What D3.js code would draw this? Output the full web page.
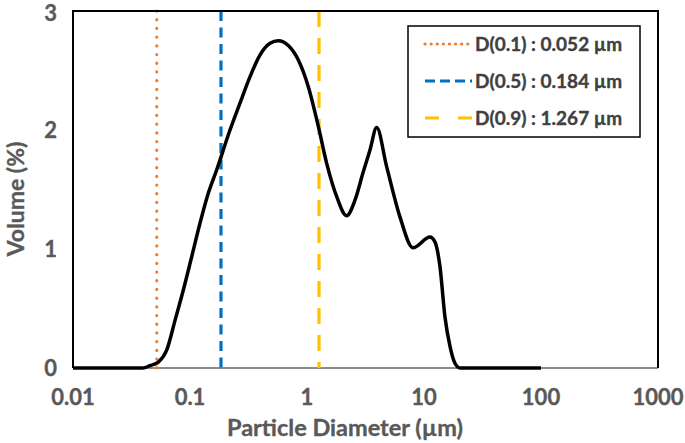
<!DOCTYPE html>
<html><head><meta charset="utf-8">
<script src="https://cdn.jsdelivr.net/npm/d3@7"></script>
<style>body{margin:0;background:#fff}svg{display:block}text{font-family:Lato,"Open Sans",sans-serif;font-weight:700}</style>
</head><body>
<svg id="c" width="685" height="443"></svg>
<script>
const diameters = [0.01, 0.0396, 0.0455, 0.0536, 0.0632, 0.0745, 0.0877, 0.1034, 0.1217, 0.1433, 0.169, 0.2197, 0.267, 0.326, 0.396, 0.483, 0.568, 0.692, 0.843, 1.026, 1.25, 1.473, 1.795, 2.18, 2.57, 3.01, 3.45, 3.94, 4.80, 6.23, 8.05, 11.25, 12.4, 13.7, 15.1, 16.7, 18.4, 20.3, 100];
const volumes   = [0, 0, 0.02, 0.05, 0.15, 0.40, 0.655, 0.935, 1.216, 1.468, 1.664, 2.0, 2.224, 2.448, 2.63, 2.729, 2.75, 2.71, 2.588, 2.364, 2.03, 1.72, 1.44, 1.28, 1.41, 1.64, 1.83, 2.02, 1.69, 1.27, 1.01, 1.10, 1.06, 0.85, 0.43, 0.18, 0.04, 0, 0];
const markerNames = ["D(0.1) : 0.052 µm", "D(0.5) : 0.184 µm", "D(0.9) : 1.267 µm"];
const markerValues = [0.052, 0.184, 1.267];
const markerColors = ["#ED7D31", "#0070C0", "#FFC000"];
const markerDash = ["0.1 8.6", "10 6.5", "16 11"];
const xTicks = [0.01, 0.1, 1, 10, 100, 1000];
const xTickLabels = ["0.01", "0.1", "1", "10", "100", "1000"];
const yTicks = [0, 1, 2, 3];

const svg = d3.select("#c");
const L = 73, R = 658, T = 11, B = 368;
const x = d3.scaleLog().domain([0.01, 1000]).range([L, R]);
const y = d3.scaleLinear().domain([0, 3]).range([B, T]);

// x axis line (gray)
svg.append("line").attr("x1", L).attr("x2", R).attr("y1", B).attr("y2", B)
  .attr("stroke", "#8c8c8c").attr("stroke-width", 2.2);

const txtStroke = (sel, c) => sel.attr("stroke", c).attr("stroke-width", 0.35);

// tick labels
txtStroke(svg.append("g").selectAll("text").data(yTicks).join("text")
  .attr("x", 57).attr("y", d => Math.max(y(d), 13)).attr("dy", "0.35em")
  .attr("text-anchor", "end").attr("fill", "#595959").attr("font-size", 22)
  .text(d => d), "#595959");
txtStroke(svg.append("g").selectAll("text").data(xTicks).join("text")
  .attr("x", d => x(d)).attr("y", 397).attr("dy", "0.35em")
  .attr("text-anchor", "middle").attr("fill", "#595959").attr("font-size", 22)
  .text((d, i) => xTickLabels[i]), "#595959");

// titles
txtStroke(svg.append("text").attr("x", 345).attr("y", 428).attr("dy", "0.35em")
  .attr("text-anchor", "middle").attr("fill", "#595959").attr("font-size", 23.5)
  .text("Particle Diameter (µm)"), "#595959");
txtStroke(svg.append("text").attr("transform", "translate(16,199) rotate(-90)").attr("dy", "0.35em")
  .attr("text-anchor", "middle").attr("fill", "#595959").attr("font-size", 23)
  .text("Volume (%)"), "#595959");

// marker lines
svg.append("g").selectAll("line").data(markerValues).join("line")
  .attr("x1", d => x(d)).attr("x2", d => x(d)).attr("y1", y(3)).attr("y2", y(0))
  .attr("stroke", (d, i) => markerColors[i]).attr("stroke-width", 3.2)
  .attr("stroke-dasharray", (d, i) => markerDash[i])
  .attr("stroke-linecap", (d, i) => i === 0 ? "round" : "butt");

// curve
const pts = diameters.map((d, i) => [d, volumes[i]]);
svg.append("path").datum(pts)
  .attr("d", d3.line().x(d => x(d[0])).y(d => y(d[1])).curve(d3.curveMonotoneX))
  .attr("fill", "none").attr("stroke", "#000").attr("stroke-width", 3.5)
  .attr("stroke-linejoin", "round");

// frame (left, top, right)
svg.append("path").attr("d", `M${L},${B}V${T}H${R}V${B}`)
  .attr("fill", "none").attr("stroke", "#000").attr("stroke-width", 2);

// legend
const lg = svg.append("g");
lg.append("rect").attr("x", 408).attr("y", 26).attr("width", 232).attr("height", 111)
  .attr("fill", "#fff").attr("stroke", "#000").attr("stroke-width", 1.5);
const items = lg.selectAll("g.it").data(markerNames).join("g").attr("class", "it")
  .attr("transform", (d, i) => `translate(0,${44 + i * 37})`);
items.append("line").attr("x1", 425).attr("x2", 472).attr("y1", 0).attr("y2", 0)
  .attr("stroke", (d, i) => markerColors[i]).attr("stroke-width", 3.2)
  .attr("stroke-dasharray", (d, i) => i === 0 ? "0.1 6" : (i === 1 ? "10 5" : "14 19"))
  .attr("stroke-linecap", (d, i) => i === 0 ? "round" : "butt");
txtStroke(items.append("text").attr("x", 475).attr("y", 0).attr("dy", "0.35em")
  .attr("fill", "#404040").attr("font-size", 19).text(d => d), "#404040");
</script>
</body></html>
